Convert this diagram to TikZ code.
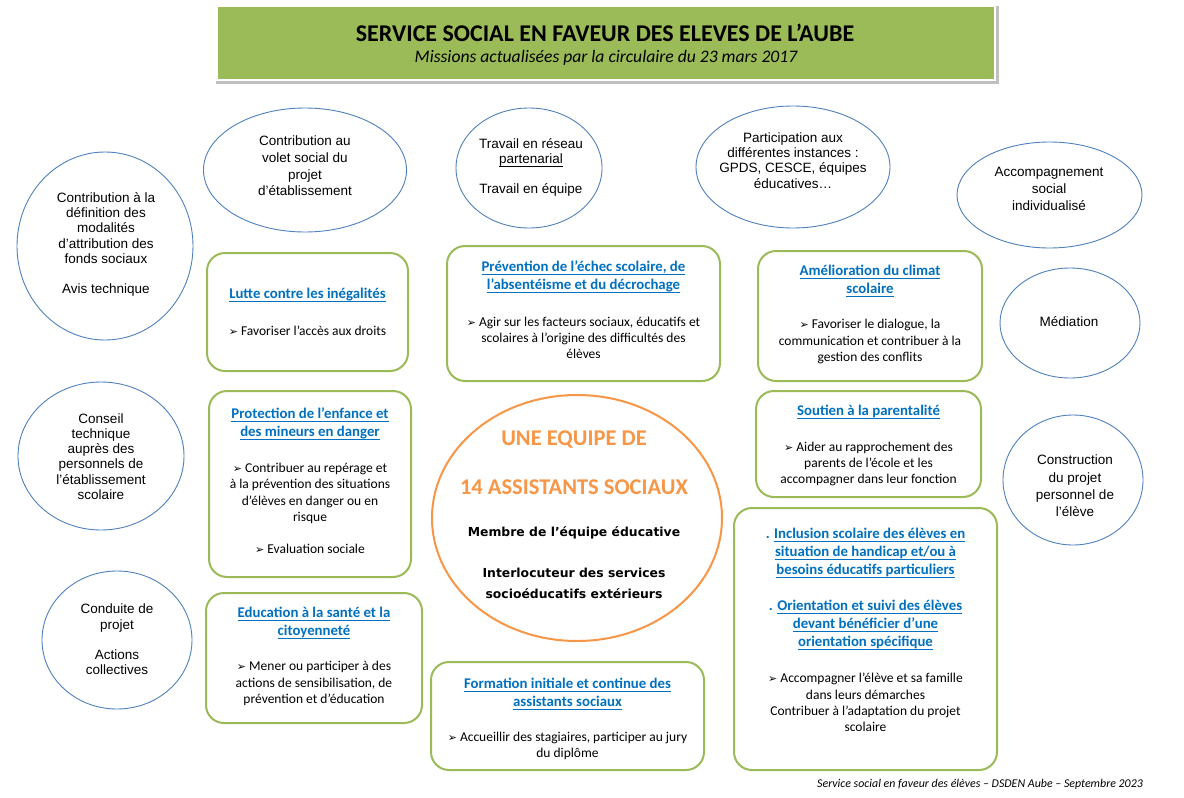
\documentclass[tikz,border=0pt]{standalone}
\usepackage{fontspec}
\setmainfont{Carlito}
\newfontfamily\arialf{Liberation Sans}
\newfontfamily\djf{DejaVu Sans}
\usetikzlibrary{shapes.geometric}
\definecolor{hdrgreen}{HTML}{9BBB59}
\definecolor{boxgreen}{HTML}{9BBB59}
\definecolor{ellblue}{HTML}{4F81BD}
\definecolor{titblue}{HTML}{0070C0}
\definecolor{orng}{HTML}{F79646}
\newcommand{\bul}{{\djf\fontsize{11}{10}\selectfont ➢}\hspace{3pt}}
\newsavebox{\myulbox}
\newcommand{\ttl}[1]{\leavevmode\sbox{\myulbox}{#1}\rlap{\vrule width \wd\myulbox height -2.2pt depth 3.3pt}\usebox{\myulbox}}
\begin{document}
\begin{tikzpicture}[x=1pt,y=-1pt,
  ell/.style={ellipse, draw=ellblue, line width=0.9pt, inner sep=0pt},
  etext/.style={align=center, font=\arialf\fontsize{13.5}{15.3}\selectfont, inner sep=0pt},
  gbox/.style={draw=boxgreen, line width=2pt, rounded corners=18pt, fill=white, inner sep=0pt},
  btitle/.style={align=center, font=\bfseries\fontsize{14.8}{18}\selectfont, text=titblue, inner sep=0pt},
  bbody/.style={align=center, font=\fontsize{13.5}{16.2}\selectfont, inner sep=0pt},
  otext/.style={font=\bfseries\fontsize{22.5}{26}\selectfont, text=orng, inner sep=0pt},
  ctext/.style={font=\djf\bfseries\fontsize{12.4}{21}\selectfont, inner sep=0pt, align=center}
]
\useasboundingbox (0,0) rectangle (1184,798);
\fill[white] (0,0) rectangle (1184,798);

% header
\fill[black!25] (216,6) rectangle (999,84);
\fill[white] (214,4) rectangle (996,81);
\node[fill=hdrgreen, minimum width=776pt, minimum height=72pt, inner sep=0pt] (hdr) at (606,43) {};
\node[inner sep=0pt, font=\bfseries\fontsize{24}{28}\selectfont] (htitle) at (605,33) {SERVICE SOCIAL EN FAVEUR DES ELEVES DE L’AUBE};
\node[inner sep=0pt, font=\itshape\fontsize{17.6}{20}\selectfont] (hsub) at (606,58) {Missions actualisées par la circulaire du 23 mars 2017};

% ellipses
\node[ell, minimum width=176pt, minimum height=188pt] (e1) at (105,246) {};
\node[etext] (e1t) at (106,244.5) {Contribution à la\\définition des\\modalités\\d’attribution des\\fonds sociaux\\[15.3pt]Avis technique};

\node[ell, minimum width=203pt, minimum height=124pt] (e2) at (305,170) {};
\node[etext, font=\arialf\fontsize{13.5}{16.7}\selectfont] (e2t) at (305,166) {Contribution au\\volet social du\\projet\\d’établissement};

\node[ell, minimum width=146pt, minimum height=120pt] (e3) at (529,168) {};
\node[etext] (e3t) at (531,167.5) {Travail en réseau\\\ttl{partenarial}\\[15pt]Travail en équipe};

\node[ell, minimum width=194pt, minimum height=122pt] (e4) at (793,167) {};
\node[etext] (e4t) at (793,160.5) {Participation aux\\différentes instances :\\GPDS, CESCE, équipes\\éducatives…};

\node[ell, minimum width=185pt, minimum height=106pt] (e5) at (1049.5,195) {};
\node[etext, font=\arialf\fontsize{13.5}{17}\selectfont] (e5t) at (1049,189) {Accompagnement\\social\\individualisé};

\node[ell, minimum width=140pt, minimum height=110pt] (e6) at (1070,323) {};
\node[etext] (e6t) at (1069,322) {Médiation};

\node[ell, minimum width=166pt, minimum height=148pt] (e7) at (101,456) {};
\node[etext] (e7t) at (101,456.5) {Conseil\\technique\\auprès des\\personnels de\\l’établissement\\scolaire};

\node[ell, minimum width=150pt, minimum height=138pt] (e8) at (117,640) {};
\node[etext] (e8t) at (117,639.5) {Conduite de\\projet\\[15.3pt]Actions\\collectives};

\node[ell, minimum width=140pt, minimum height=130pt] (e9) at (1073,480) {};
\node[etext, font=\arialf\fontsize{13.5}{17.3}\selectfont] (e9t) at (1075,486) {Construction\\du projet\\personnel de\\l’élève};

% central circle
\node[ellipse, draw=orng, line width=2pt, minimum width=290pt, minimum height=246pt, inner sep=0pt] (cc) at (577,518) {};
\node[otext] (c1) at (574,440) {UNE EQUIPE DE};
\node[otext] (c2) at (574,487) {14 ASSISTANTS SOCIAUX};
\node[ctext] (c3) at (574,533) {Membre de l’équipe éducative};
\node[ctext] (c4) at (574,583.5) {Interlocuteur des services\\socioéducatifs extérieurs};

% green boxes
\node[gbox, minimum width=201pt, minimum height=118pt] (bA) at (307.5,312) {};
\node[btitle] (bAt) at (307.5,295) {\ttl{Lutte contre les inégalités}};
\node[bbody] (bAb) at (307.5,331) {\bul Favoriser l’accès aux droits};

\node[gbox, minimum width=273pt, minimum height=135pt] (bB) at (583.5,313.5) {};
\node[btitle] (bBt) at (583.5,277) {\ttl{Prévention de l’échec scolaire, de}\\\ttl{l’absentéisme et du décrochage}};
\node[bbody] (bBb) at (583.5,338) {\bul Agir sur les facteurs sociaux, éducatifs et\\scolaires à l’origine des difficultés des\\élèves};

\node[gbox, minimum width=224pt, minimum height=130pt] (bC) at (870,316) {};
\node[btitle] (bCt) at (870,281) {\ttl{Amélioration du climat}\\\ttl{scolaire}};
\node[bbody] (bCb) at (870,341.5) {\bul Favoriser le dialogue, la\\communication et contribuer à la\\gestion des conflits};

\node[gbox, minimum width=202pt, minimum height=186pt] (bD) at (310,484) {};
\node[btitle] (bDt) at (310,424) {\ttl{Protection de l’enfance et}\\\ttl{des mineurs en danger}};
\node[bbody] (bDb) at (310,508.5) {\bul Contribuer au repérage et\\à la prévention des situations\\d’élèves en danger ou en\\risque\\[16.2pt]\bul Evaluation sociale};

\node[gbox, minimum width=225pt, minimum height=106pt] (bE) at (868.5,444) {};
\node[btitle] (bEt) at (868.5,412) {\ttl{Soutien à la parentalité}};
\node[bbody] (bEb) at (868.5,464) {\bul Aider au rapprochement des\\parents de l’école et les\\accompagner dans leur fonction};

\node[gbox, minimum width=263pt, minimum height=262pt] (bF) at (865.5,639) {};
\node[btitle] (bFt) at (865.5,589) {. \ttl{Inclusion scolaire des élèves en}\\\ttl{situation de handicap et/ou à}\\\ttl{besoins éducatifs particuliers}\\[18pt]. \ttl{Orientation et suivi des élèves}\\\ttl{devant bénéficier d’une}\\\ttl{orientation spécifique}};
\node[bbody] (bFb) at (865.5,702.5) {\bul Accompagner l’élève et sa famille\\dans leurs démarches\\Contribuer à l’adaptation du projet\\scolaire};

\node[gbox, minimum width=216pt, minimum height=130pt] (bG) at (314,658) {};
\node[btitle] (bGt) at (314,623) {\ttl{Education à la santé et la}\\\ttl{citoyenneté}};
\node[bbody] (bGb) at (314,683.5) {\bul Mener ou participer à des\\actions de sensibilisation, de\\prévention et d’éducation};

\node[gbox, minimum width=273pt, minimum height=108pt] (bH) at (567.5,716) {};
\node[btitle] (bHt) at (567.5,694) {\ttl{Formation initiale et continue des}\\\ttl{assistants sociaux}};
\node[bbody] (bHb) at (567.5,746) {\bul Accueillir des stagiaires, participer au jury\\du diplôme};

% footer
\node[anchor=east, inner sep=0pt, font=\itshape\fontsize{11.9}{13}\selectfont] (foot) at (1143,784) {Service social en faveur des élèves – DSDEN Aube – Septembre 2023};
\end{tikzpicture}
\end{document}
